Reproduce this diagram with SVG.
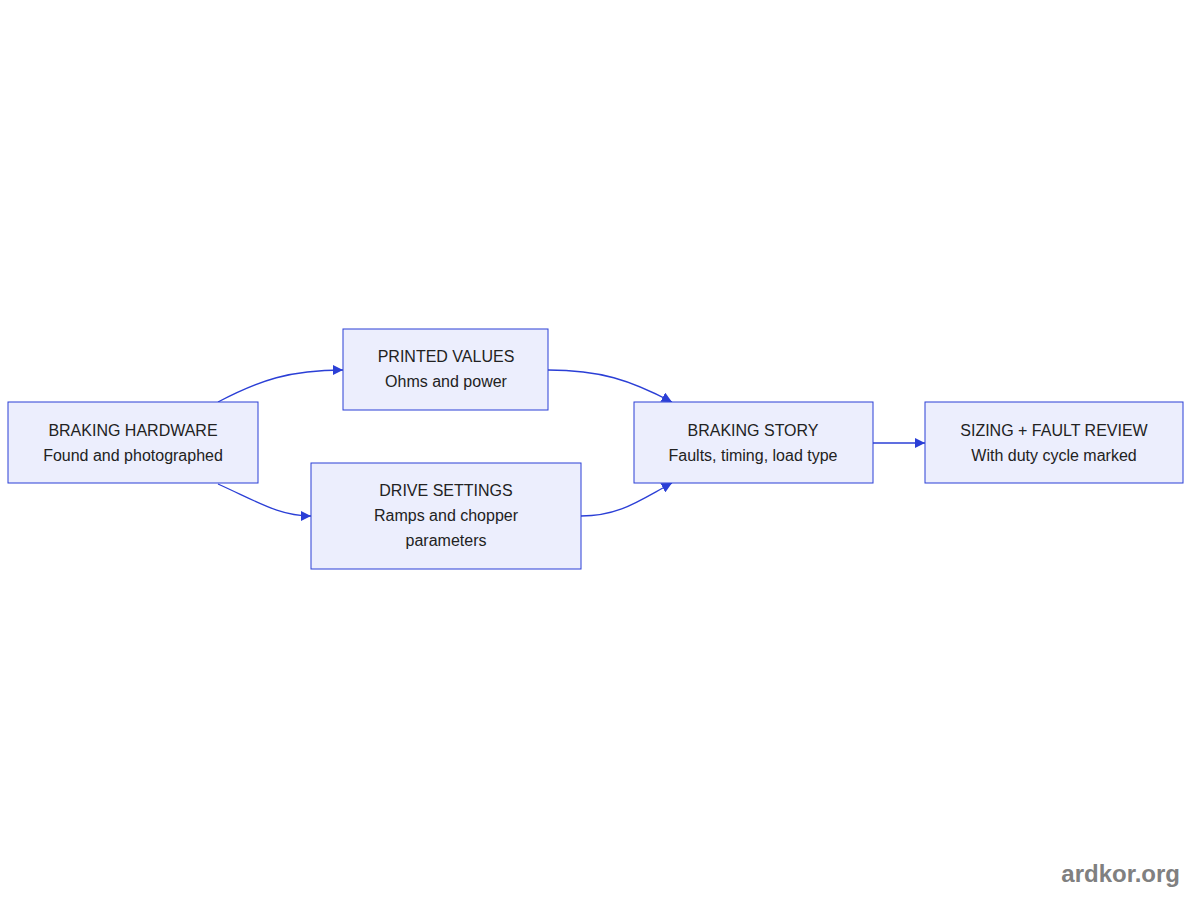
<svg xmlns="http://www.w3.org/2000/svg" width="1200" height="900" viewBox="0 0 1200 900">
<style>
.n{fill:#ECEEFD;stroke:#2B3FD6;stroke-width:1}
.t{font-family:"Liberation Sans",Arial,sans-serif;font-size:16px;fill:#222;text-anchor:middle}
.e{fill:none;stroke:#2B3FD6;stroke-width:1.3}
</style>
<defs><marker id="a" viewBox="0 0 10 10" refX="10" refY="5" markerWidth="8" markerHeight="8" orient="auto"><path d="M0,0L10,5L0,10z" fill="#2B3FD6"/></marker></defs>
<rect width="1200" height="900" fill="#fff"/>
<g id="connectors">
<path class="e" marker-end="url(#a)" d="M218,402 C260,380 290,370 343,370"/>
<path class="e" marker-end="url(#a)" d="M218,484 C260,503 280,516 311,516"/>
<path class="e" marker-end="url(#a)" d="M548,370 C600,370 630,380 672,402"/>
<path class="e" marker-end="url(#a)" d="M581,516 C620,516 640,500 672,483"/>
<path class="e" marker-end="url(#a)" d="M873,443 L925,443"/>
</g>
<g id="hardware"><rect class="n" x="8" y="402" width="250" height="81"/><text class="t" x="133" y="436">BRAKING HARDWARE</text><text class="t" x="133" y="461">Found and photographed</text></g>
<g id="printed"><rect class="n" x="343" y="329" width="205" height="81"/><text class="t" x="446" y="362">PRINTED VALUES</text><text class="t" x="446" y="387">Ohms and power</text></g>
<g id="drive"><rect class="n" x="311" y="463" width="270" height="106"/><text class="t" x="446" y="496">DRIVE SETTINGS</text><text class="t" x="446" y="521">Ramps and chopper</text><text class="t" x="446" y="546">parameters</text></g>
<g id="story"><rect class="n" x="634" y="402" width="239" height="81"/><text class="t" x="753" y="436">BRAKING STORY</text><text class="t" x="753" y="461">Faults, timing, load type</text></g>
<g id="sizing"><rect class="n" x="925" y="402" width="258" height="81"/><text class="t" x="1054" y="436">SIZING + FAULT REVIEW</text><text class="t" x="1054" y="461">With duty cycle marked</text></g>
<text x="1180" y="882" font-family="Liberation Sans,Arial,sans-serif" font-size="24" font-weight="bold" fill="#808080" text-anchor="end">ardkor.org</text>
</svg>
